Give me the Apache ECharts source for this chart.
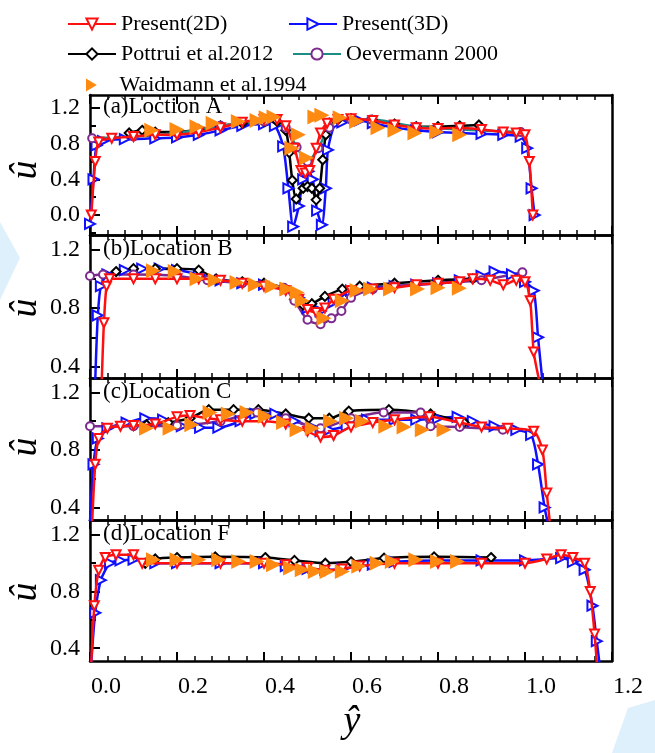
<!DOCTYPE html>
<html><head><meta charset="utf-8">
<script src="https://cdn.jsdelivr.net/npm/echarts@6/dist/echarts.min.js"></script>
<style>html,body{margin:0;padding:0;background:#fff;}#c{width:655px;height:753px;}</style>
</head><body><div id="c"></div>
<script>
// ---------- data ----------
const seriesNames = ['Present(2D)', 'Present(3D)', 'Pottrui et al.2012', 'Oevermann 2000', 'Waidmann et al.1994'];
const panelLabels = ['(a)Loction A', '(b)Location B', '(c)Location C', '(d)Location F'];
const xTickValues = [0, 0.2, 0.4, 0.6, 0.8, 1.0, 1.2];
const yLabelsA = [0.0, 0.4, 0.8, 1.2];
const yMinorA = [-0.2, 0.2, 0.6, 1.0];
const yLabelsBCD = [0.4, 0.8, 1.2];
const yMinorBCD = [0.6, 1.0];

// Panel A
const a2d = [[0.003,0.0],[0.012,0.6],[0.02,0.82],[0.05,0.86],[0.1,0.88],[0.15,0.9],[0.2,0.9],[0.25,0.93],[0.3,0.98],[0.35,1.04],[0.4,1.07],[0.43,1.07],[0.45,1.0],[0.47,0.75],[0.485,0.5],[0.495,0.47],[0.505,0.5],[0.52,0.75],[0.53,0.92],[0.545,1.03],[0.57,1.07],[0.6,1.08],[0.65,1.06],[0.7,1.01],[0.75,0.98],[0.8,0.97],[0.85,0.98],[0.9,0.96],[0.95,0.93],[0.98,0.92],[1.0,0.9],[1.01,0.6],[1.018,0.0]];
const a3d = [[0.0,-0.1],[0.008,0.4],[0.015,0.78],[0.03,0.83],[0.08,0.85],[0.15,0.86],[0.2,0.87],[0.25,0.9],[0.3,0.95],[0.35,1.0],[0.4,1.02],[0.425,1.0],[0.444,0.77],[0.456,0.3],[0.467,-0.13],[0.48,0.1],[0.49,0.4],[0.502,0.49],[0.512,0.4],[0.522,0.05],[0.533,-0.11],[0.542,0.3],[0.547,0.73],[0.563,1.02],[0.58,1.04],[0.62,1.06],[0.65,1.03],[0.7,0.98],[0.75,0.95],[0.8,0.93],[0.85,0.92],[0.9,0.91],[0.95,0.9],[0.99,0.88],[1.005,0.75],[1.015,0.3],[1.022,0.0]];
const aPot = [[0.09,0.92],[0.12,0.95],[0.15,0.93],[0.2,0.93],[0.25,0.96],[0.3,1.0],[0.35,1.03],[0.4,1.05],[0.43,1.05],[0.45,0.95],[0.458,0.7],[0.465,0.39],[0.474,0.18],[0.49,0.3],[0.5,0.32],[0.51,0.3],[0.52,0.17],[0.528,0.3],[0.535,0.62],[0.542,0.9],[0.55,1.03],[0.57,1.07],[0.6,1.08],[0.65,1.06],[0.7,1.02],[0.75,0.99],[0.8,0.99],[0.85,1.0],[0.894,1.01]];
const aOev = [[0.005,0.86],[0.1,0.88],[0.2,0.92],[0.3,1.0],[0.4,1.05],[0.45,0.98],[0.475,0.76],[0.5,0.6],[0.525,0.75],[0.55,0.98],[0.6,1.07],[0.647,1.07],[0.75,0.99],[0.85,0.96],[0.99,0.93]];
const aWai = [[0.142,0.95],[0.2,0.96],[0.246,0.99],[0.283,1.03],[0.341,1.05],[0.384,1.06],[0.405,1.09],[0.423,1.1],[0.464,0.75],[0.479,0.9],[0.498,0.64],[0.517,1.1],[0.533,1.12],[0.575,1.09],[0.613,1.05],[0.662,0.98],[0.701,0.95],[0.747,0.92],[0.797,0.93],[0.85,0.9]];

// Panel B
const b2d = [[0.027,0.3],[0.032,0.7],[0.038,0.95],[0.045,1.0],[0.1,1.0],[0.15,1.0],[0.2,1.0],[0.25,1.0],[0.3,0.99],[0.35,0.97],[0.4,0.95],[0.45,0.92],[0.48,0.86],[0.5,0.79],[0.52,0.77],[0.54,0.8],[0.56,0.86],[0.6,0.92],[0.65,0.93],[0.7,0.94],[0.75,0.96],[0.8,0.97],[0.85,0.98],[0.88,1.0],[0.92,0.99],[0.95,0.96],[0.98,0.99],[1.0,0.98],[1.012,0.85],[1.02,0.5],[1.033,0.3]];
const b3d = [[0.012,0.3],[0.018,0.75],[0.025,0.95],[0.04,1.03],[0.08,1.06],[0.12,1.07],[0.16,1.07],[0.2,1.06],[0.25,1.03],[0.3,0.99],[0.35,0.97],[0.4,0.96],[0.45,0.93],[0.48,0.87],[0.5,0.8],[0.53,0.78],[0.56,0.84],[0.6,0.92],[0.65,0.94],[0.7,0.95],[0.75,0.96],[0.8,0.97],[0.85,0.99],[0.9,1.02],[0.93,1.05],[0.97,1.03],[1.0,0.98],[1.02,0.92],[1.03,0.6],[1.04,0.3]];
const bPot = [[0.06,1.05],[0.1,1.07],[0.15,1.07],[0.2,1.07],[0.25,1.06],[0.29,1.0],[0.35,0.98],[0.4,0.97],[0.45,0.93],[0.47,0.86],[0.49,0.82],[0.51,0.83],[0.54,0.88],[0.58,0.93],[0.62,0.95],[0.7,0.97],[0.8,0.99],[0.88,1.0]];
const bOev = [[0.0,1.02],[0.03,1.03],[0.1,1.03],[0.2,1.02],[0.27,0.99],[0.35,0.97],[0.445,0.94],[0.47,0.85],[0.5,0.72],[0.53,0.69],[0.555,0.73],[0.578,0.78],[0.6,0.87],[0.65,0.93],[0.697,0.95],[0.8,0.97],[0.9,0.99],[0.994,1.045]];
const bWai = [[0.146,1.055],[0.196,1.05],[0.246,1.0],[0.288,0.99],[0.338,0.975],[0.38,0.96],[0.419,0.95],[0.453,0.93],[0.476,0.906],[0.488,0.85],[0.538,0.73],[0.58,0.85],[0.614,0.92],[0.645,0.93],[0.691,0.93],[0.753,0.93],[0.8,0.94],[0.849,0.935]];

// Panel C
const c2d = [[0.005,0.3],[0.012,0.7],[0.02,0.88],[0.04,0.95],[0.07,0.965],[0.1,0.97],[0.15,0.98],[0.2,1.03],[0.23,1.04],[0.27,1.02],[0.3,1.01],[0.35,1.0],[0.4,1.0],[0.45,0.98],[0.5,0.93],[0.53,0.89],[0.56,0.9],[0.6,0.96],[0.65,0.99],[0.7,1.01],[0.78,1.03],[0.85,0.99],[0.9,0.96],[0.96,0.95],[1.02,0.93],[1.04,0.8],[1.05,0.5],[1.057,0.3]];
const c3d = [[0.0,0.3],[0.008,0.7],[0.018,0.88],[0.04,0.95],[0.084,0.99],[0.127,1.02],[0.168,1.01],[0.211,0.965],[0.253,0.955],[0.295,0.955],[0.346,1.0],[0.38,1.05],[0.426,1.05],[0.47,1.0],[0.51,0.96],[0.53,0.93],[0.55,0.94],[0.59,0.965],[0.637,1.01],[0.7,1.01],[0.75,1.01],[0.8,1.02],[0.845,1.03],[0.88,1.0],[0.93,0.965],[0.98,0.94],[1.014,0.905],[1.03,0.7],[1.045,0.4],[1.052,0.3]];
const cPot = [[0.13,0.975],[0.18,0.99],[0.23,1.02],[0.273,1.08],[0.33,1.08],[0.387,1.08],[0.45,1.05],[0.503,1.02],[0.55,1.02],[0.595,1.07],[0.687,1.08],[0.783,1.05],[0.86,0.99]];
const cOev = [[0.0,0.965],[0.1,0.965],[0.2,0.97],[0.3,1.0],[0.384,1.06],[0.45,1.02],[0.53,0.95],[0.6,1.02],[0.675,1.06],[0.76,1.06],[0.783,0.965],[0.85,0.96],[0.949,0.94]];
const cWai = [[0.13,0.95],[0.184,0.95],[0.234,0.975],[0.276,1.06],[0.318,1.05],[0.361,1.06],[0.403,1.035],[0.445,0.99],[0.476,0.94],[0.511,0.95],[0.553,1.0],[0.59,1.02],[0.626,1.0],[0.68,0.965],[0.722,0.96],[0.764,0.94],[0.814,0.94]];

// Panel D
const d2d = [[0.003,0.3],[0.01,0.7],[0.02,0.95],[0.035,1.04],[0.06,1.06],[0.1,1.06],[0.12,1.0],[0.2,1.0],[0.3,1.0],[0.4,1.0],[0.45,0.99],[0.5,0.97],[0.54,0.95],[0.58,0.96],[0.62,0.98],[0.7,1.0],[0.8,1.0],[0.9,1.0],[1.0,1.0],[1.05,1.03],[1.083,1.06],[1.11,1.04],[1.137,1.0],[1.15,0.8],[1.16,0.5],[1.165,0.3]];
const d3d = [[0.003,0.3],[0.012,0.65],[0.025,0.88],[0.046,1.0],[0.07,1.02],[0.1,1.025],[0.15,1.0],[0.2,1.0],[0.3,1.0],[0.4,1.0],[0.45,0.98],[0.5,0.96],[0.541,0.954],[0.58,0.96],[0.65,0.99],[0.7,1.01],[0.8,1.02],[0.9,1.02],[1.0,1.02],[1.083,1.036],[1.11,1.01],[1.137,0.954],[1.155,0.7],[1.165,0.45],[1.171,0.3]];
const dPot = [[0.127,1.0],[0.15,1.03],[0.2,1.04],[0.288,1.045],[0.403,1.04],[0.47,1.02],[0.541,1.0],[0.6,1.01],[0.676,1.036],[0.791,1.045],[0.922,1.04]];
const dOev = [];
const dWai = [[0.146,1.025],[0.2,1.025],[0.25,1.025],[0.296,1.025],[0.342,1.013],[0.384,1.013],[0.422,0.99],[0.461,0.966],[0.488,0.954],[0.518,0.942],[0.545,0.942],[0.58,0.942],[0.618,0.978],[0.66,1.0],[0.695,1.013],[0.749,1.025],[0.799,1.013],[0.845,1.013]];

// ---------- layout / style ----------
const panels = [
  {top: 95, height: 140, min: -0.224, max: 1.346, labels: yLabelsA, minor: yMinorA, data: [a2d, a3d, aPot, aOev, aWai], oevLine: '#1e8c84'},
  {top: 235, height: 143, min: 0.322, max: 1.30, labels: yLabelsBCD, minor: yMinorBCD, data: [b2d, b3d, bPot, bOev, bWai], oevLine: '#7d2a8e'},
  {top: 378, height: 142, min: 0.313, max: 1.30, labels: yLabelsBCD, minor: yMinorBCD, data: [c2d, c3d, cPot, cOev, cWai], oevLine: '#7d2a8e'},
  {top: 520, height: 141, min: 0.31, max: 1.305, labels: yLabelsBCD, minor: yMinorBCD, data: [d2d, d3d, dPot, dOev, dWai], oevLine: '#7d2a8e'}
];
const FONT = 'Liberation Serif';
const AX = {color: '#000', width: 2.5};
const styles = [
  {color: '#ff1010', symbol: 'emptyTriangle', rotate: 180, size: 9},
  {color: '#1010ff', symbol: 'emptyTriangle', rotate: -90, size: 10},
  {color: '#000000', symbol: 'emptyDiamond', rotate: 0, size: 9},
  {color: '#7d2a8e', symbol: 'emptyCircle', rotate: 0, size: 8},
  {color: '#ff8a12', symbol: 'triangle', rotate: -90, size: 15}
];

const grids = [], xAxes = [], yAxes = [], series = [], graphics = [];
// faint light-blue background shapes seen in the scan
graphics.push({type: 'polygon', shape: {points: [[0, 222], [20, 258], [0, 300]]}, style: {fill: '#dff0fd'}, z: -10});
graphics.push({type: 'polygon', shape: {points: [[628, 708], [655, 700], [655, 753], [612, 753]]}, style: {fill: '#dff0fd'}, z: -10});

panels.forEach((p, i) => {
  grids.push({left: 90, right: 43, top: p.top, height: p.height});
  const last = i === panels.length - 1;
  ['bottom', 'top'].forEach(pos => {
    xAxes.push({
      gridIndex: i, type: 'value', position: pos, min: 0, max: 1.2, interval: 0.2,
      axisLine: {show: true, onZero: false, lineStyle: AX},
      axisTick: {show: true, inside: true, length: 9, lineStyle: {color: '#000', width: 2}},
      minorTick: {show: true, splitNumber: 5, length: 5, lineStyle: {color: '#000', width: 1.5}},
      splitLine: {show: false}, minorSplitLine: {show: false},
      axisLabel: {
        show: last && pos === 'bottom', margin: 14, showMinLabel: true, showMaxLabel: true,
        formatter: v => '{a|' + v.toFixed(1) + '}',
        rich: {a: {fontFamily: FONT, fontSize: 24, color: '#000', padding: [0, 0, 0, 32]}}
      }
    });
  });
  yAxes.push({
    gridIndex: i, type: 'value', position: 'left', min: p.min, max: p.max,
    axisLine: {show: true, onZero: false, lineStyle: AX},
    axisTick: {show: true, inside: true, length: 10, customValues: p.labels, lineStyle: {color: '#000', width: 2}},
    axisLabel: {show: true, customValues: p.labels, margin: 10, fontFamily: FONT, fontSize: 24, color: '#000', formatter: v => v.toFixed(1)},
    splitLine: {show: false}
  });
  yAxes.push({
    gridIndex: i, type: 'value', position: 'left', min: p.min, max: p.max,
    axisLine: {show: false},
    axisTick: {show: true, inside: true, length: 6, customValues: p.minor, lineStyle: {color: '#000', width: 2}},
    axisLabel: {show: false}, splitLine: {show: false}
  });
  yAxes.push({
    gridIndex: i, type: 'value', position: 'right', min: p.min, max: p.max,
    axisLine: {show: true, onZero: false, lineStyle: AX},
    axisTick: {show: false}, axisLabel: {show: false}, splitLine: {show: false}
  });

  p.data.forEach((d, k) => {
    const s = styles[k];
    if (!d.length) return;
    if (k === 4) {
      series.push({
        name: seriesNames[k], type: 'scatter', xAxisIndex: 2 * i, yAxisIndex: 3 * i, data: d,
        symbol: s.symbol, symbolRotate: s.rotate, symbolSize: s.size,
        itemStyle: {color: s.color, opacity: 1}, z: 5
      });
    } else {
      const lineColor = k === 3 ? p.oevLine : s.color;
      series.push({
        name: seriesNames[k], type: 'line', xAxisIndex: 2 * i, yAxisIndex: 3 * i, data: d,
        smooth: 0.25, symbol: s.symbol, symbolRotate: s.rotate, symbolSize: s.size, showSymbol: true,
        lineStyle: {color: lineColor, width: 2.5},
        itemStyle: {color: s.color, borderColor: s.color, borderWidth: 1.5},
        z: 3 + (k === 0 ? 1 : 0)
      });
    }
  });

  graphics.push({
    type: 'text', left: 103, top: [108, 250, 393, 535][i] - 13,
    style: {text: panelLabels[i], font: '23px "' + FONT + '"', fill: '#000'}
  });
  graphics.push({
    type: 'text', x: 26, y: [170, 308, 447, 592][i], rotation: Math.PI / 2,
    style: {text: 'û', font: 'italic 38px "' + FONT + '"', fill: '#000', align: 'center', verticalAlign: 'middle'}
  });
});
graphics.push({
  type: 'text', x: 352, y: 722,
  style: {text: 'ŷ', font: 'italic 38px "' + FONT + '"', fill: '#000', align: 'center', verticalAlign: 'middle'}
});

const legendPos = [[62, 8], [283, 8], [62, 38], [287, 38], [81, 69]];
const legends = seriesNames.map((n, k) => {
  const isScatter = k === 4;
  const lg = {
    data: [n], left: legendPos[k][0], top: legendPos[k][1],
    itemWidth: isScatter ? 12 : 48, itemHeight: isScatter ? 13 : 14, selectedMode: false,
    formatter: isScatter ? '{a|{name}}' : '{name}',
    textStyle: {fontFamily: FONT, fontSize: 22, color: '#000',
      rich: {a: {fontFamily: FONT, fontSize: 22, color: '#000', padding: [0, 0, 0, 17]}}}
  };
  if (isScatter) lg.icon = 'path://M0,0 L10,6 L0,12 Z';
  return lg;
});

const chart = echarts.init(document.getElementById('c'), null, {renderer: 'canvas'});
chart.setOption({
  backgroundColor: '#fff', animation: false,
  legend: legends, grid: grids, xAxis: xAxes, yAxis: yAxes, series: series, graphic: graphics
});
</script></body></html>
